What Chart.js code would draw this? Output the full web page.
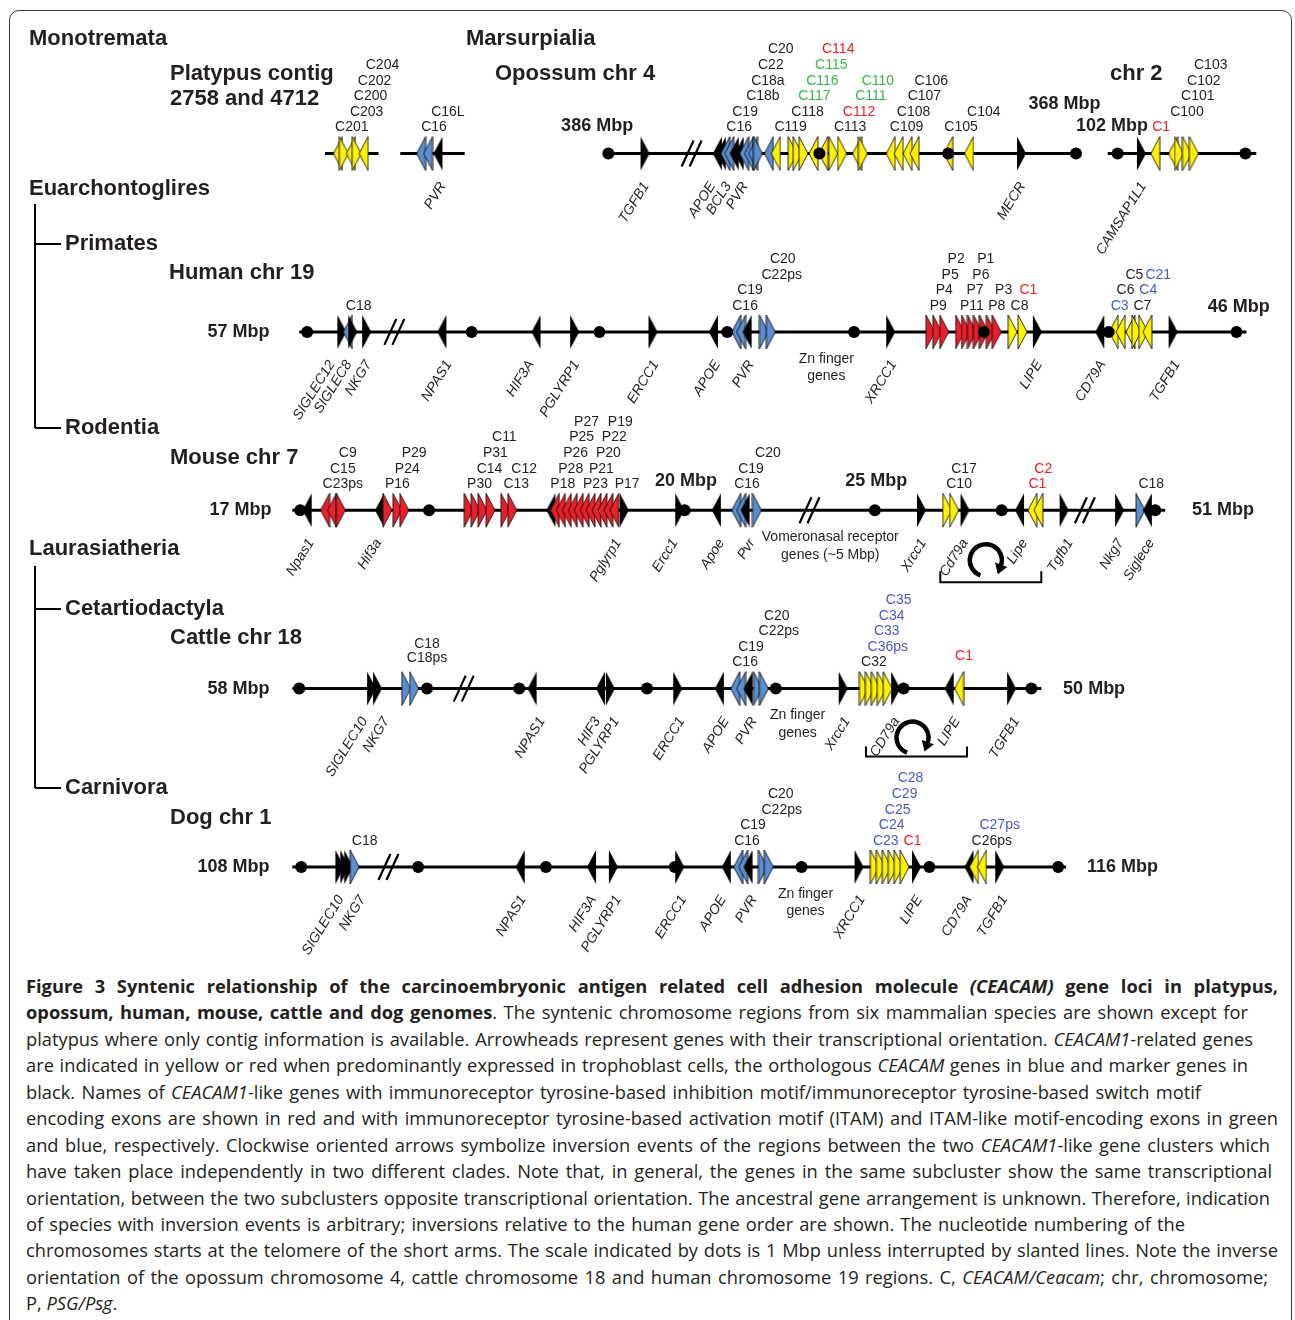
<!DOCTYPE html>
<html>
<head>
<meta charset="utf-8">
<script src="https://cdn.jsdelivr.net/npm/chart.js@4.4.1/dist/chart.umd.min.js"></script>
<style>
  html, body { margin: 0; padding: 0; background: #fff; }
  #frame { position: absolute; left: 9px; top: 10px; width: 1283px; height: 1340px;
           border: 1.5px solid #3a3a3a; border-radius: 10px; box-sizing: border-box; }
  #wrap { position: absolute; left: 0; top: 0; width: 1295px; height: 965px; }
  #cap { position: absolute; left: 26px; top: 973px; font-family: "Open Sans", sans-serif;
         font-size: 18.3px; color: #231f20; }
  #cap div { white-space: nowrap; height: 26.45px; line-height: 26.45px; }
</style>
</head>
<body>
<div id="frame"></div>
<div id="wrap"><canvas id="syntenyChart" width="1295" height="965"></canvas></div>
<div id="cap">
  <div data-end="1278"><b>Figure 3 Syntenic relationship of the carcinoembryonic antigen related cell adhesion molecule <i>(CEACAM)</i> gene loci in platypus,</b></div>
  <div data-end="1248"><b>opossum, human, mouse, cattle and dog genomes</b>. The syntenic chromosome regions from six mammalian species are shown except for</div>
  <div data-end="1253">platypus where only contig information is available. Arrowheads represent genes with their transcriptional orientation. <i>CEACAM1</i>-related genes</div>
  <div data-end="1248">are indicated in yellow or red when predominantly expressed in trophoblast cells, the orthologous <i>CEACAM</i> genes in blue and marker genes in</div>
  <div data-end="1201">black. Names of <i>CEACAM1</i>-like genes with immunoreceptor tyrosine-based inhibition motif/immunoreceptor tyrosine-based switch motif</div>
  <div data-end="1278">encoding exons are shown in red and with immunoreceptor tyrosine-based activation motif (ITAM) and ITAM-like motif-encoding exons in green</div>
  <div data-end="1270">and blue, respectively. Clockwise oriented arrows symbolize inversion events of the regions between the two <i>CEACAM1</i>-like gene clusters which</div>
  <div data-end="1272">have taken place independently in two different clades. Note that, in general, the genes in the same subcluster show the same transcriptional</div>
  <div data-end="1270">orientation, between the two subclusters opposite transcriptional orientation. The ancestral gene arrangement is unknown. Therefore, indication</div>
  <div data-end="1185">of species with inversion events is arbitrary; inversions relative to the human gene order are shown. The nucleotide numbering of the</div>
  <div data-end="1278">chromosomes starts at the telomere of the short arms. The scale indicated by dots is 1 Mbp unless interrupted by slanted lines. Note the inverse</div>
  <div data-end="1268">orientation of the opossum chromosome 4, cattle chromosome 18 and human chromosome 19 regions. C, <i>CEACAM/Ceacam</i>; chr, chromosome;</div>
  <div>P, <i>PSG/Psg</i>.</div>
</div>
<script>
// rows: 0 platypus + opossum, 1 human, 2 mouse, 3 cattle, 4 dog
// genes: [position, orientation L/R, colour k/y/r/b]
const platypusGenes = [[335,'L','y'],[341,'R','y'],[348,'L','y'],[354,'R','y'],[361,'L','y'],
  [419,'L','b'],[426,'L','b'],[436,'L','k']];
const opossumGenes = [[645,'R','k'],[718,'L','k'],[722,'L','k'],[726,'L','b'],[730,'L','b'],[735,'L','k'],
  [740,'L','k'],[745,'L','b'],[750,'L','b'],[754,'L','b'],[759,'R','b'],[770,'L','b'],[777,'L','y'],
  [794,'R','y'],[799,'R','y'],[805,'R','y'],[815,'L','y'],[825,'L','y'],[835,'R','y'],[844,'R','y'],
  [859,'L','y'],[865,'R','y'],[893,'L','y'],[901,'L','y'],[910,'L','y'],[917,'L','y'],[951,'L','y'],
  [972,'L','y'],[1025,'R','k'],
  [1146,'R','k'],[1160,'L','y'],[1178,'L','y'],[1184,'R','y'],[1192,'R','y'],[1199,'R','y']];
const humanGenes = [[339,'R','k'],[345,'L','b'],[350,'R','k'],[364,'R','k'],[440,'L','k'],[535,'L','k'],
  [574,'R','k'],[653,'R','k'],[714,'L','k'],[737,'L','b'],[742,'L','b'],[748,'L','k'],[765,'R','b'],
  [772,'R','b'],[893,'R','k'],[933,'R','r'],[940,'R','r'],[947,'R','r'],[963,'R','r'],[969,'R','r'],
  [975,'R','r'],[981,'R','r'],[987,'R','r'],[994,'R','r'],[1000,'R','r'],[1016,'R','y'],[1026,'R','y'],
  [1041,'R','k'],[1104,'L','k'],[1118,'L','y'],[1125,'L','y'],[1135,'L','y'],[1141,'R','y'],
  [1148,'R','y'],[1152,'L','y'],[1178,'R','k']];
const mouseGenes = [[304,'L','k'],[322,'L','r'],[329,'L','r'],[338,'R','r'],[377,'L','k'],[385,'R','r'],
  [395,'R','r'],[402,'R','r'],[467,'R','r'],[474,'R','r'],[481,'R','r'],[489,'R','r'],[504,'R','r'],
  [511,'R','r'],[550,'L','k'],[554,'L','r'],[560,'L','r'],[566,'L','r'],[572,'L','r'],[578,'L','r'],
  [584,'L','r'],[590,'L','r'],[596,'L','r'],[602,'L','r'],[608,'L','r'],[614,'L','r'],[624,'R','k'],
  [680,'R','k'],[717,'L','k'],[737,'L','b'],[742,'L','b'],[746,'L','k'],[758,'R','b'],[924,'R','k'],
  [950,'R','y'],[957,'R','y'],[968,'R','k'],[1023,'L','k'],[1036,'L','y'],[1042,'L','y'],[1068,'R','k'],
  [1124,'R','k'],[1145,'R','b'],[1152,'L','k']];
const cattleGenes = [[369,'R','k'],[375,'R','k'],[404,'R','b'],[412,'R','b'],[531,'L','k'],[600,'L','k'],
  [610,'R','k'],[678,'R','k'],[720,'L','k'],[736,'L','b'],[742,'L','b'],[749,'L','k'],[759,'R','b'],
  [765,'R','b'],[845,'R','k'],[866,'R','y'],[872,'R','y'],[878,'R','y'],[884,'R','y'],[890,'R','y'],
  [898,'R','k'],[952,'L','k'],[962,'L','y'],[1015,'R','k']];
const dogGenes = [[337,'R','k'],[342,'R','k'],[346,'R','k'],[352,'R','b'],[519,'L','k'],[591,'L','k'],
  [613,'R','k'],[680,'R','k'],[727,'L','k'],[739,'L','b'],[744,'L','b'],[749,'L','k'],[764,'R','b'],
  [770,'R','b'],[861,'R','k'],[877,'R','y'],[883,'R','y'],[889,'R','y'],[895,'R','y'],[901,'R','y'],
  [907,'R','y'],[919,'R','k'],[972,'L','k'],[977,'L','y'],[985,'L','y'],[1003,'R','k']];

// 1 Mbp scale dots
const opossumDots = [608, 821, 951, 1080, 1122, 1251];
const humanDots = [304, 470, 599, 728, 856, 987, 1113, 1242];
const mouseDots = [297, 427, 685, 877, 1005, 1160];
const cattleDots = [296, 425, 518, 647, 777, 906, 1035];
const dogDots = [298, 416, 545, 675, 803, 932, 1062];

// chromosome / contig segments [from, to]
const opossumSegments = [[322, 376], [398, 463], [606, 1082], [1112, 1262]];
const humanSegments = [[296, 1252]];
const mouseSegments = [[289, 1170]];
const cattleSegments = [[289, 1045]];
const dogSegments = [[289, 1070]];

// slanted-line interruptions
const opossumBreaks = [692];
const humanBreaks = [392];
const mouseBreaks = [811, 1089];
const cattleBreaks = [462];
const dogBreaks = [386];

// gene names above the line: [name, x, stack level, colour]
const opossumNames = [['C201',349,0],['C203',364,1],['C200',368,2],['C202',372,3],['C204',380,4],
  ['C16',432,0],['C16L',446,1],
  ['C16',740,0],['C19',746,1],['C18b',764,2],['C18a',769,3],['C22',772,4],['C20',782,5],
  ['C119',792,0],['C118',809,1],['C117',816,2,'g'],['C116',824,3,'g'],['C115',833,4,'g'],['C114',840,5,'r'],
  ['C113',852,0],['C112',861,1,'r'],['C111',873,2,'g'],['C110',880,3,'g'],
  ['C109',909,0],['C108',916,1],['C107',927,2],['C106',934,3],['C105',964,0],['C104',987,1],
  ['C1',1166,0,'r'],['C100',1192,1],['C101',1203,2],['C102',1209,3],['C103',1216,4]];
const humanNames = [['C18',356,0],['C16',746,0],['C19',751,1],['C22ps',783,2],['C20',784,3],
  ['P9',941,0],['P4',947,1],['P5',953,2],['P2',959,3],['P11',975,0],['P7',978,1],['P6',984,2],['P1',989,3],
  ['P8',1000,0],['P3',1007,1],['C8',1023,0],['C1',1032,1,'r'],['C3',1124,0,'b'],['C7',1147,0],
  ['C6',1130,1],['C4',1153,1,'b'],['C5',1139,2],['C21',1163,2,'b']];
const mouseNames = [['C23ps',340,0],['C15',340,1],['C9',345,2],['P16',395,0],['P24',405,1],['P29',412,2],
  ['P30',478,0],['C13',515,0],['C14',488,1],['C12',523,1],['P31',494,2],['C11',503,3],
  ['P18',562,0],['P23',595,0],['P17',627,0],['P28',570,1],['P21',601,1],['P26',575,2],['P20',608,2],
  ['P25',581,3],['P22',614,3],['P27',586,4],['P19',620,4],
  ['C16',748,0],['C19',752,1],['C20',769,2],['C10',962,0],['C17',967,1],['C1',1041,0,'r'],['C2',1047,1,'r'],
  ['C18',1156,0]];
const cattleNames = [['C18ps',425,0.3],['C18',425,1.2],['C16',746,0],['C19',752,1],['C22ps',780,2],['C20',778,3],
  ['C32',876,0],['C36ps',890,1,'b'],['C33',889,2,'b'],['C34',894,3,'b'],['C35',901,4,'b'],['C1',967,0.4,'r']];
const dogNames = [['C18',362,0],['C16',748,0],['C19',754,1],['C22ps',783,2],['C20',782,3],
  ['C23',888,0,'b'],['C1',915,0,'r'],['C24',894,1,'b'],['C25',900,2,'b'],['C29',907,3,'b'],['C28',913,4,'b'],
  ['C26ps',995,0],['C27ps',1003,1,'b']];

// marker gene names below the line (italic, slanted): [name, x of text end]
const opossumMarkers = [['PVR',443],['TGFB1',648],['APOE',715],['BCL3',731],['PVR',748],['MECR',1028],['CAMSAP1L1',1150]];
const humanMarkers = [['SIGLEC12',331],['SIGLEC8',348],['NKG7',368],['NPAS1',449],['HIF3A',532],['PGLYRP1',578],
  ['ERCC1',658],['APOE',720],['PVR',754],['XRCC1',898],['LIPE',1045],['CD79A',1109],['TGFB1',1184]];
const mouseMarkers = [['Npas1',310],['Hif3a',378],['Pglyrp1',620],['Ercc1',677],['Apoe',724],['Pvr',755],
  ['Xrcc1',928],['Cd79a',970],['Lipe',1030],['Tgfb1',1076],['Nkg7',1127],['Siglece',1158]];
const cattleMarkers = [['SIGLEC10',364],['NKG7',386],['NPAS1',543],['HIF3',599],['PGLYRP1',618],['ERCC1',684],
  ['APOE',729],['PVR',757],['Xrcc1',851],['CD79a',901],['LIPE',962],['TGFB1',1022]];
const dogMarkers = [['SIGLEC10',340],['NKG7',362],['NPAS1',524],['HIF3A',595],['PGLYRP1',620],['ERCC1',686],
  ['APOE',726],['PVR',757],['XRCC1',866],['LIPE',924],['CD79A',974],['TGFB1',1010]];

// plain notes under a line: [row, text lines, centre x]
const notes = [[1, ['Zn finger', 'genes'], 828], [2, ['Vomeronasal receptor', 'genes (~5 Mbp)'], 832],
  [3, ['Zn finger', 'genes'], 799], [4, ['Zn finger', 'genes'], 807]];

// Mbp marks: [row, text, x, align]
const mbpMarks = [[0,'386 Mbp',633,'right'],[0,'368 Mbp',1032,'left'],[0,'102 Mbp',1080,'left'],
  [1,'57 Mbp',266,'right'],[1,'46 Mbp',1213,'left'],
  [2,'17 Mbp',268,'right'],[2,'20 Mbp',655,'left'],[2,'25 Mbp',847,'left'],[2,'51 Mbp',1197,'left'],
  [3,'58 Mbp',266,'right'],[3,'50 Mbp',1067,'left'],
  [4,'108 Mbp',266,'right'],[4,'116 Mbp',1091,'left']];

const titles = [['Monotremata',29,39],['Marsurpialia',466,39],['Platypus contig',170,74],['2758 and 4712',170,99],
  ['Opossum chr 4',495,74],['chr 2',1110,74],['Euarchontoglires',29,189],['Primates',65,244],
  ['Human chr 19',169,273],['Rodentia',65,428],['Mouse chr 7',170,458],['Laurasiatheria',29,549],
  ['Cetartiodactyla',65,609],['Cattle chr 18',170,638],['Carnivora',65,788],['Dog chr 1',170,818]];

const geneSets = [platypusGenes.concat(opossumGenes), humanGenes, mouseGenes, cattleGenes, dogGenes];
const dotSets = [opossumDots, humanDots, mouseDots, cattleDots, dogDots];
const segmentSets = [opossumSegments, humanSegments, mouseSegments, cattleSegments, dogSegments];
const breakSets = [opossumBreaks, humanBreaks, mouseBreaks, cattleBreaks, dogBreaks];
const nameSets = [opossumNames, humanNames, mouseNames, cattleNames, dogNames];
const markerSets = [opossumMarkers, humanMarkers, mouseMarkers, cattleMarkers, dogMarkers];

// styles
const FILL = { k: '#000000', y: '#fff200', r: '#e8202a', b: '#5b8dcf' };
const TEXT = { k: '#231f20', r: '#ee1d23', g: '#39b54a', b: '#4a5bc0' };
const FONT = '"Liberation Sans", Arial, Helvetica, sans-serif';

// arrowhead icons used as point styles
function makeArrow(dir, col) {
  const w = 9, h = 34;
  const c = document.createElement('canvas');
  c.width = w + 2; c.height = h + 2;
  const g = c.getContext('2d');
  g.beginPath();
  if (dir === 'R') { g.moveTo(1, 1); g.lineTo(w + 1, h / 2 + 1); g.lineTo(1, h + 1); }
  else { g.moveTo(w + 1, 1); g.lineTo(1, h / 2 + 1); g.lineTo(w + 1, h + 1); }
  g.closePath();
  g.fillStyle = FILL[col];
  g.fill();
  if (col !== 'k') { g.lineWidth = 0.8; g.strokeStyle = '#000'; g.stroke(); }
  return c;
}
const arrows = {};
['L', 'R'].forEach(d => Object.keys(FILL).forEach(c => { arrows[d + c] = makeArrow(d, c); }));

// datasets
const datasets = [];
segmentSets.forEach((segs, row) => {
  segs.forEach(s => {
    datasets.push({ type: 'line', data: [{ x: s[0], y: row }, { x: s[1], y: row }],
      borderColor: '#000', borderWidth: 3, pointRadius: 0, order: 3 });
  });
});
const genePoints = [];
geneSets.forEach((genes, row) => genes.forEach(g => genePoints.push({ x: g[0], y: row, d: g[1], c: g[2] })));
datasets.push({ type: 'scatter', data: genePoints, order: 2, pointRadius: 5,
  pointStyle: ctx => arrows[ctx.raw.d + ctx.raw.c] });
const dotPoints = [];
dotSets.forEach((dots, row) => dots.forEach(x => dotPoints.push({ x: x, y: row })));
datasets.push({ type: 'scatter', data: dotPoints, order: 1, pointRadius: 6, pointStyle: 'circle',
  backgroundColor: '#000', borderColor: '#000', borderWidth: 0 });

// everything that is text or ornament
const decorPlugin = {
  id: 'decor',
  afterDatasetsDraw(chart) {
    const ctx = chart.ctx;
    const px = v => chart.scales.x.getPixelForValue(v);
    const py = r => chart.scales.y.getPixelForValue(r);
    ctx.save();

    // slanted interruptions
    ctx.strokeStyle = '#000'; ctx.lineWidth = 2.2;
    breakSets.forEach((brs, row) => brs.forEach(b => {
      const y = py(row);
      [-4, 4].forEach(o => {
        ctx.beginPath(); ctx.moveTo(px(b) + o - 6, y + 13); ctx.lineTo(px(b) + o + 6, y - 13); ctx.stroke();
      });
    }));

    // phylogeny brackets
    ctx.lineWidth = 2;
    [[204, 428, [244, 428]], [566, 788, [609, 788]]].forEach(t => {
      ctx.beginPath(); ctx.moveTo(35, t[0]); ctx.lineTo(35, t[1]); ctx.stroke();
      t[2].forEach(y => { ctx.beginPath(); ctx.moveTo(35, y); ctx.lineTo(61, y); ctx.stroke(); });
    });

    // inversion arrows and brackets (mouse, cattle)
    [[2, 989, 50, 943, 1045, 61, 72], [3, 915, 49, 868, 970, 58, 68]].forEach(a => {
      const y0 = py(a[0]);
      const cx = px(a[1]), cy = y0 + a[2], r = 16;
      ctx.lineWidth = 4.5;
      const s = 110 * Math.PI / 180, e = 380 * Math.PI / 180;
      ctx.beginPath(); ctx.arc(cx, cy, r, s, e); ctx.stroke();
      const ex = cx + r * Math.cos(e), ey = cy + r * Math.sin(e);
      const tx = Math.cos(e + Math.PI / 2), ty = Math.sin(e + Math.PI / 2);
      const nx = Math.cos(e), ny = Math.sin(e);
      ctx.beginPath();
      ctx.moveTo(ex + tx * 9, ey + ty * 9);
      ctx.lineTo(ex + nx * 6.5 - tx * 1, ey + ny * 6.5 - ty * 1);
      ctx.lineTo(ex - nx * 6.5 - tx * 1, ey - ny * 6.5 - ty * 1);
      ctx.closePath(); ctx.fillStyle = '#000'; ctx.fill();
      ctx.lineWidth = 2;
      ctx.beginPath();
      ctx.moveTo(px(a[3]), y0 + a[5]); ctx.lineTo(px(a[3]), y0 + a[6]);
      ctx.lineTo(px(a[4]), y0 + a[6]); ctx.lineTo(px(a[4]), y0 + a[5]);
      ctx.stroke();
    });

    // titles
    ctx.fillStyle = TEXT.k; ctx.textBaseline = 'middle'; ctx.textAlign = 'left';
    ctx.font = 'bold 22px ' + FONT;
    titles.forEach(t => ctx.fillText(t[0], t[1], t[2]));

    // Mbp marks
    ctx.font = 'bold 18px ' + FONT;
    mbpMarks.forEach(m => {
      const y = py(m[0]);
      let dy = 0;
      if (m[1] === '386 Mbp' || m[1] === '102 Mbp') dy = -28;
      if (m[1] === '368 Mbp') dy = -50;
      if (m[1] === '46 Mbp') dy = -25;
      if (m[1] === '20 Mbp' || m[1] === '25 Mbp') dy = -29;
      ctx.textAlign = m[3];
      ctx.fillText(m[1], px(m[2]), y + dy);
    });

    // gene names above
    ctx.font = '14px ' + FONT; ctx.textAlign = 'center';
    nameSets.forEach((names, row) => names.forEach(n => {
      ctx.fillStyle = TEXT[n[3] || 'k'];
      ctx.fillText(n[0], px(n[1]), py(row) - 26 - 15.6 * n[2]);
    }));

    // notes under the line
    ctx.fillStyle = TEXT.k;
    notes.forEach(n => n[1].forEach((t, i) => ctx.fillText(t, px(n[2]), py(n[0]) + 27 + 17.5 * i)));

    // slanted marker names
    ctx.font = 'italic 14px ' + FONT; ctx.textAlign = 'right';
    markerSets.forEach((marks, row) => marks.forEach(m => {
      ctx.save();
      ctx.translate(px(m[1]) - 2, py(row) + 30);
      ctx.rotate(-58 * Math.PI / 180);
      ctx.fillText(m[0], 0, 0);
      ctx.restore();
    }));
    ctx.restore();
  }
};

new Chart(document.getElementById('syntenyChart'), {
  data: { datasets: datasets },
  options: {
    responsive: false,
    animation: false,
    events: [],
    layout: { padding: 0 },
    plugins: { legend: { display: false }, tooltip: { enabled: false } },
    scales: {
      x: { type: 'linear', min: 0, max: 1295, display: false },
      y: { type: 'linear', min: -0.8272, max: 4.5161, reverse: true, display: false }
    }
  },
  plugins: [decorPlugin]
});

// caption: set word spacing so each line ends where it does in the figure
document.querySelectorAll('#cap div').forEach(div => {
  const end = div.dataset.end;
  if (!end) return;
  const span = document.createElement('span');
  while (div.firstChild) span.appendChild(div.firstChild);
  div.appendChild(span);
  const natural = span.getBoundingClientRect().width;
  const spaces = (span.textContent.trim().match(/ /g) || []).length;
  const target = end - 26;
  if (spaces) span.style.wordSpacing = ((target - natural) / spaces) + 'px';
});
</script>
</body>
</html>
